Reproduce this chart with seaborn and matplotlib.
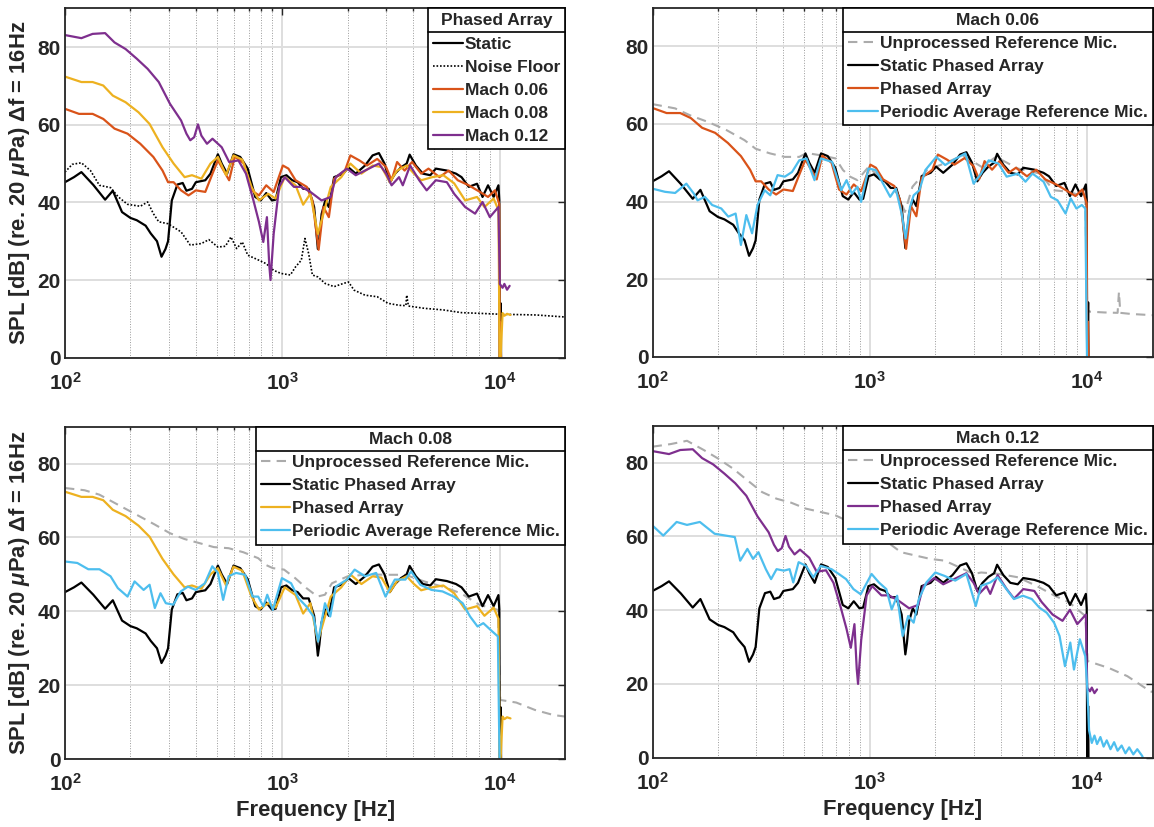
import matplotlib
matplotlib.use('Agg')
import matplotlib.pyplot as plt
import seaborn as sns
from matplotlib.lines import Line2D
from matplotlib.ticker import FixedLocator, FixedFormatter, NullFormatter

# ---- data (frequency in Hz, level in dB) ----
static_f = [
    100, 110, 119, 135, 153, 166, 183, 200, 214, 235,
    248, 265, 278, 290, 298, 310, 329, 348, 362, 384,
    400, 442, 467, 505, 526, 557, 596, 640, 693, 750,
    795, 843, 895, 931, 985, 1044, 1110, 1176, 1246, 1321,
    1400, 1456, 1480, 1515, 1575, 1636, 1730, 1903, 2015, 2175,
    2400, 2600, 2780, 2950, 3120, 3300, 3510, 3730, 3850, 4110,
    4430, 4790, 5080, 5710, 6290, 6670, 7200, 7860, 8330, 8830,
    9370, 9860, 9950, 10000, 10100, 10150, 10200]
static_db = [
    45.2, 46.5, 47.8, 44.5, 40.7, 43.0, 37.5, 36.0, 35.4, 34.0,
    32.0, 30.0, 26.0, 28.0, 30.0, 40.5, 44.6, 45.0, 43.0, 43.5,
    45.2, 45.7, 47.4, 52.4, 50.0, 47.4, 52.4, 51.7, 48.7, 41.4,
    40.5, 42.4, 40.5, 40.7, 46.5, 47.0, 45.7, 45.2, 43.5, 43.5,
    38.8, 28.0, 31.0, 37.0, 40.5, 38.8, 46.5, 47.4, 49.0, 47.4,
    49.5, 52.1, 52.7, 50.0, 45.2, 47.4, 49.0, 50.0, 52.3, 49.5,
    47.4, 47.0, 48.7, 48.2, 47.4, 46.5, 44.0, 44.8, 41.4, 44.4,
    41.4, 44.4, 40.5, -5, 14.0, -5, -5]

noise_f = [
    100, 108, 119, 131, 144, 162, 176, 194, 222, 240,
    255, 270, 298, 342, 377, 424, 459, 505, 547, 580,
    616, 654, 693, 780, 843, 912, 985, 1088, 1150, 1222,
    1270, 1321, 1374, 1456, 1575, 1730, 1903, 2015, 2136, 2400,
    2730, 3060, 3440, 3700, 3730, 3800, 4520, 5500, 6670, 8230,
    9940, 12100, 14700, 19700, 20000]
noise_db = [
    47.8, 49.8, 50.2, 48.2, 44.4, 43.8, 41.4, 39.5, 39.0, 40.1,
    37.1, 35.0, 34.5, 32.4, 29.0, 29.4, 30.4, 28.5, 28.7, 31.1,
    28.1, 29.8, 26.4, 25.1, 24.2, 22.5, 21.7, 21.3, 23.4, 25.1,
    30.7, 26.8, 21.3, 20.8, 19.1, 18.3, 19.1, 19.5, 17.4, 16.1,
    15.7, 14.0, 13.5, 13.4, 16.1, 13.3, 12.7, 12.3, 11.6, 11.4,
    11.2, 11.1, 11.0, 10.5, 10.5]

m06_f = [
    100, 116, 134, 150, 169, 194, 222, 255, 281, 298,
    316, 342, 370, 400, 442, 477, 505, 547, 569, 604,
    666, 721, 780, 843, 912, 1005, 1066, 1150, 1295, 1374,
    1468, 1545, 1636, 1730, 1940, 2055, 2262, 2450, 2730, 3000,
    3180, 3370, 3650, 3950, 4350, 4700, 5280, 5820, 6410, 7200,
    8100, 8830, 9500, 9940, 10000, 10080, 10150]
m06_db = [
    64.1, 62.8, 62.8, 61.5, 59.0, 57.7, 55.1, 51.7, 48.2, 45.2,
    45.2, 43.1, 41.8, 43.1, 42.7, 47.4, 50.8, 47.4, 45.7, 51.8,
    50.0, 43.1, 41.8, 44.4, 42.7, 49.5, 48.7, 45.7, 44.0, 40.5,
    27.8, 38.8, 36.2, 46.1, 48.2, 52.1, 50.8, 49.5, 51.2, 49.1,
    45.7, 50.4, 48.2, 50.4, 47.4, 48.7, 46.5, 48.2, 45.7, 44.4,
    42.7, 41.4, 43.1, 39.6, -5, 9.0, -5]

m08_f = [
    100, 119, 134, 150, 166, 190, 218, 245, 281, 316,
    355, 384, 424, 467, 505, 551, 596, 654, 721, 780,
    860, 931, 1025, 1150, 1246, 1345, 1456, 1545, 1670, 1866,
    2055, 2310, 2600, 2860, 3120, 3370, 3730, 4030, 4350, 4890,
    5500, 6170, 6930, 7860, 8500, 9370, 9860, 10000, 10300, 10500,
    10800, 11200]
m08_db = [
    72.4, 71.0, 71.0, 70.1, 67.5, 65.8, 63.2, 60.2, 54.2, 50.0,
    46.5, 47.0, 46.1, 50.0, 51.7, 47.0, 52.1, 51.0, 44.0, 40.5,
    42.2, 41.0, 46.5, 44.4, 39.4, 42.2, 31.9, 37.1, 44.0, 46.5,
    50.0, 47.4, 49.5, 49.1, 45.2, 48.2, 49.5, 47.4, 45.7, 46.5,
    47.0, 44.9, 40.5, 41.4, 38.8, 41.0, 38.0, -5, 11.5, 10.8,
    11.3, 11.0]

m12_f = [
    100, 119, 134, 153, 169, 190, 214, 240, 270, 304,
    342, 362, 377, 393, 409, 424, 450, 477, 526, 569,
    628, 680, 736, 780, 817, 849, 870, 882, 912, 966,
    1025, 1130, 1222, 1345, 1515, 1670, 1760, 1980, 2175, 2500,
    2780, 3000, 3180, 3440, 3580, 3870, 4260, 4610, 5080, 5710,
    6170, 6930, 7700, 8330, 9000, 9860, 10000, 10300, 10500, 10800,
    11100]
m12_db = [
    83.1, 82.3, 83.4, 83.6, 81.2, 79.5, 77.0, 74.4, 71.0, 65.4,
    61.1, 57.7, 56.0, 56.8, 60.1, 57.2, 55.1, 56.4, 54.2, 50.4,
    50.8, 47.4, 40.5, 35.0, 29.8, 36.2, 24.0, 20.0, 31.9, 44.0,
    46.5, 44.0, 44.0, 42.7, 40.5, 41.4, 46.5, 48.7, 47.0, 48.7,
    50.0, 47.4, 44.4, 46.5, 44.4, 49.5, 45.7, 43.1, 45.7, 45.2,
    42.2, 38.8, 37.1, 40.1, 36.2, 38.8, 19.0, 18.0, 19.0, 17.5,
    18.5]

ref06_f = [
    100, 127, 149, 180, 219, 265, 298, 347, 405, 473,
    511, 595, 696, 752, 811, 876, 985, 1340, 1450, 1570,
    1830, 2200, 2680, 3270, 3800, 4800, 6070, 7000, 8230, 9800,
    10000, 10300, 12000, 13800, 14000, 14200, 16000, 20000]
ref06_db = [
    65.1, 64.0, 62.2, 60.5, 58.4, 55.8, 53.6, 52.4, 51.5, 51.5,
    52.5, 51.9, 51.1, 48.1, 46.4, 45.5, 48.9, 42.0, 37.3, 43.8,
    48.1, 49.8, 51.9, 48.9, 51.5, 48.5, 47.2, 42.9, 42.5, 41.2,
    12.0, 11.6, 11.4, 11.3, 16.7, 11.3, 11.0, 10.7]

avg06_f = [
    100, 114, 127, 143, 155, 161, 174, 188, 207, 223,
    241, 255, 270, 287, 304, 328, 348, 376, 406, 438,
    473, 511, 556, 595, 670, 738, 781, 826, 876, 911,
    985, 1064, 1150, 1240, 1315, 1400, 1460, 1530, 1590, 1690,
    1800, 2020, 2220, 2490, 2750, 3000, 3250, 3520, 3900, 4260,
    4800, 5200, 5600, 6300, 6800, 7300, 7950, 8400, 8920, 9450,
    9800, 10000]
avg06_db = [
    43.3, 42.5, 42.2, 44.6, 42.0, 40.3, 41.2, 39.1, 38.2, 36.1,
    36.9, 28.8, 36.5, 31.8, 39.1, 42.9, 41.6, 46.8, 46.4, 47.6,
    50.6, 51.1, 45.5, 51.1, 50.2, 42.9, 45.5, 42.0, 43.8, 39.9,
    48.5, 48.1, 44.6, 41.2, 43.3, 36.9, 30.5, 38.6, 41.6, 42.9,
    48.1, 51.5, 49.4, 51.1, 52.4, 44.6, 47.2, 50.6, 49.8, 46.4,
    47.2, 45.1, 47.2, 45.1, 41.2, 40.3, 36.9, 40.8, 38.2, 39.1,
    38.2, -5]

ref08_f = [
    100, 123, 144, 175, 213, 259, 303, 354, 414, 484,
    566, 662, 774, 837, 904, 1018, 1145, 1290, 1450, 1570,
    1690, 2000, 2500, 3030, 3680, 4490, 5450, 6620, 8040, 9800,
    10050, 11900, 14500, 17700, 20000]
ref08_db = [
    73.4, 72.8, 71.6, 68.9, 66.2, 63.5, 61.2, 59.6, 58.5, 57.4,
    57.1, 56.0, 54.4, 52.6, 51.7, 51.3, 49.0, 46.3, 44.0, 44.5,
    47.6, 49.5, 50.0, 49.9, 49.9, 48.1, 46.7, 44.9, 41.8, 40.4,
    16.0, 15.3, 13.3, 11.9, 11.5]

avg08_f = [
    100, 114, 128, 144, 162, 175, 194, 209, 230, 245,
    259, 275, 291, 315, 341, 368, 399, 440, 476, 505,
    534, 566, 612, 674, 729, 774, 818, 852, 904, 995,
    1097, 1185, 1290, 1390, 1460, 1570, 1660, 1760, 1980, 2150,
    2400, 2700, 2980, 3290, 3680, 3910, 4310, 4850, 5450, 6140,
    6750, 7300, 7900, 8400, 9060, 9800, 10000]
avg08_db = [
    53.5, 53.1, 51.4, 51.4, 49.5, 46.3, 44.0, 48.1, 45.8, 47.2,
    40.9, 44.9, 42.2, 41.8, 45.4, 46.7, 45.8, 47.6, 52.2, 50.4,
    43.1, 49.5, 50.4, 49.9, 44.0, 44.0, 41.3, 44.5, 40.4, 49.0,
    47.6, 43.6, 41.3, 38.6, 31.8, 42.2, 38.6, 46.7, 48.6, 51.3,
    49.5, 50.4, 44.0, 48.6, 48.6, 50.8, 47.2, 45.8, 45.4, 44.0,
    42.2, 38.6, 35.9, 36.8, 35.0, 33.2, -5]

ref12_f = [
    100, 121, 144, 172, 200, 234, 273, 319, 372, 435,
    508, 594, 693, 800, 1000, 1200, 1390, 1620, 1890, 2210,
    2580, 3010, 3250, 3940, 4800, 5830, 7090, 8260, 9800, 10050,
    12600, 15300, 19500, 20000]
ref12_db = [
    84.3, 85.0, 85.9, 83.4, 81.1, 78.4, 75.2, 72.0, 70.2, 69.1,
    67.5, 66.6, 65.7, 64.0, 61.5, 58.5, 55.7, 54.8, 53.9, 53.4,
    51.6, 49.8, 50.2, 49.8, 48.9, 46.6, 43.9, 42.1, 38.4, 26.2,
    24.3, 22.1, 18.0, 17.8]

avg12_f = [
    100, 112, 129, 144, 165, 193, 217, 239, 253, 273,
    290, 307, 332, 351, 372, 402, 427, 444, 470, 508,
    549, 594, 666, 719, 777, 840, 907, 1018, 1100, 1190,
    1260, 1335, 1415, 1500, 1590, 1680, 1820, 2000, 2200, 2470,
    2780, 3070, 3250, 3580, 3870, 4250, 4600, 5060, 5560, 6020,
    6510, 7040, 7460, 7900, 8360, 8690, 9250, 9800, 10000, 10200,
    10500, 10800, 11100, 11500, 11900, 12300, 12800, 13300, 13800, 14400,
    15000, 15600, 16300, 17000, 17900, 18300]
avg12_db = [
    62.9, 60.2, 63.9, 63.1, 63.9, 60.7, 60.2, 59.8, 53.4, 56.6,
    53.9, 55.7, 51.1, 48.4, 51.1, 50.7, 51.1, 47.5, 53.0, 52.0,
    48.9, 52.0, 51.1, 49.8, 48.4, 45.7, 44.3, 49.8, 47.5, 45.7,
    40.2, 43.9, 33.0, 38.4, 36.6, 43.0, 47.5, 50.2, 49.3, 48.0,
    49.8, 41.1, 46.6, 47.5, 48.9, 45.7, 43.0, 43.9, 43.0, 40.7,
    39.3, 36.6, 33.0, 24.8, 31.2, 23.9, 32.1, 27.5, 19.3, 7.4,
    4.0, 6.0, 3.7, 5.6, 3.0, 4.7, 2.3, 4.2, 1.9, 3.3,
    1.2, 2.8, 0.9, 2.3, 0.5, -1]

# MATLAB default colours
BLACK = '#000000'
ORANGE = '#D95319'
YELLOW = '#EDB120'
PURPLE = '#7E2F8E'
BLUE = '#4DBEEE'
GREY = '#ababab'
AXCOL = '#262626'

sns.set_theme(style='white')
plt.rcParams['font.family'] = ['Liberation Sans', 'DejaVu Sans']
plt.rcParams['font.weight'] = 'bold'
plt.rcParams['axes.labelweight'] = 'bold'
plt.rcParams['mathtext.fontset'] = 'custom'
plt.rcParams['mathtext.rm'] = 'Liberation Sans:bold'
plt.rcParams['mathtext.bf'] = 'Liberation Sans:bold'
plt.rcParams['mathtext.it'] = 'Liberation Sans:italic:bold'

fig = plt.figure(figsize=(11.54, 8.27), dpi=100)
ax_tl = fig.add_axes([0.0563, 0.5675, 0.4335, 0.4225])
ax_tr = fig.add_axes([0.5655, 0.5687, 0.4333, 0.4222])
ax_bl = fig.add_axes([0.0563, 0.0822, 0.4335, 0.4018])
ax_br = fig.add_axes([0.5655, 0.0838, 0.4333, 0.4015])

LW = 1.6
DASH = (4.5, 3.0)
DOT = (1.0, 1.1)
FS_TICK = 15
FS_LAB = 15.8
FS_LEG = 12.5
LSPACE = 0.46


def draw(ax, f, db, color, lw=LW, dashes=None):
    sns.lineplot(x=f, y=db, ax=ax, color=color, lw=lw,
                 estimator=None, sort=False)
    if dashes is not None:
        ax.lines[-1].set_dashes(dashes)


def style_axes(ax):
    ax.set_xscale('log')
    ax.set_xlim(100, 20000)
    ax.set_ylim(0, 90)
    ax.xaxis.set_major_locator(FixedLocator([100, 1000, 10000]))
    ax.xaxis.set_major_formatter(FixedFormatter(
        [r'$\mathbf{10^{2}}$', r'$\mathbf{10^{3}}$', r'$\mathbf{10^{4}}$']))
    minors = [m * d for d in (100, 1000) for m in range(2, 10)]
    ax.xaxis.set_minor_locator(FixedLocator(minors))
    ax.xaxis.set_minor_formatter(NullFormatter())
    ax.set_yticks([0, 20, 40, 60, 80])
    ax.set_axisbelow(True)
    ax.grid(which='major', color='#dedede', lw=1.4, ls='-')
    ax.grid(which='minor', axis='x', color='#9a9a9a', lw=0.7, ls=':')
    ax.tick_params(which='both', direction='in', top=True, right=True,
                   colors=AXCOL, labelsize=FS_TICK, width=1.0)
    ax.tick_params(which='major', length=5)
    ax.tick_params(which='minor', length=2.5)
    ax.tick_params(axis='y', pad=3)
    ax.tick_params(axis='x', pad=10)
    for s in ax.spines.values():
        s.set_color(AXCOL)
        s.set_linewidth(1.3)
    ax.set_xlabel('')
    ax.set_ylabel('')


def handle(color, lw=LW, dashes=None):
    h = Line2D([0], [0], color=color, lw=lw)
    if dashes is not None:
        h.set_dashes(dashes)
    return h


def add_legend(ax, title, handles, labels):
    leg = ax.legend(handles, labels, title=title, loc='upper right',
                    borderaxespad=0, frameon=True, fancybox=False,
                    framealpha=1, edgecolor='black',
                    prop={'weight': 'bold', 'size': FS_LEG},
                    title_fontproperties={'weight': 'bold', 'size': FS_LEG},
                    handlelength=1.7, handletextpad=0.1, labelspacing=LSPACE,
                    borderpad=0.3)
    leg.get_frame().set_linewidth(1.2)
    leg.set_zorder(10)
    return leg


# ---- top left: all phased array results ----
draw(ax_tl, noise_f, noise_db, BLACK, lw=1.2, dashes=DOT)
draw(ax_tl, static_f, static_db, BLACK)
draw(ax_tl, m06_f, m06_db, ORANGE)
draw(ax_tl, m08_f, m08_db, YELLOW)
draw(ax_tl, m12_f, m12_db, PURPLE)
style_axes(ax_tl)
leg_tl = add_legend(ax_tl, 'Phased Array',
                    [handle(BLACK), handle(BLACK, 1.2, DOT), handle(ORANGE),
                     handle(YELLOW), handle(PURPLE)],
                    ['Static', 'Noise Floor', 'Mach 0.06', 'Mach 0.08', 'Mach 0.12'])

# ---- per Mach number panels ----
panels = [
    (ax_tr, 'Mach 0.06', ref06_f, ref06_db, m06_f, m06_db, ORANGE, avg06_f, avg06_db),
    (ax_bl, 'Mach 0.08', ref08_f, ref08_db, m08_f, m08_db, YELLOW, avg08_f, avg08_db),
    (ax_br, 'Mach 0.12', ref12_f, ref12_db, m12_f, m12_db, PURPLE, avg12_f, avg12_db),
]
legends = [leg_tl]
for ax, title, rf, rdb, pf, pdb, pcol, af, adb in panels:
    draw(ax, rf, rdb, GREY, lw=1.5, dashes=DASH)
    draw(ax, static_f, static_db, BLACK)
    draw(ax, pf, pdb, pcol)
    draw(ax, af, adb, BLUE)
    style_axes(ax)
    legends.append(add_legend(
        ax, title,
        [handle(GREY, 1.5, DASH), handle(BLACK), handle(pcol), handle(BLUE)],
        ['Unprocessed Reference Mic.', 'Static Phased Array', 'Phased Array',
         'Periodic Average Reference Mic.']))

ylab = r'SPL [dB] (re. 20 $\mu$Pa) $\Delta$f = 16Hz'
for ax in (ax_tl, ax_bl):
    ax.set_ylabel(ylab, fontsize=FS_LAB, fontweight='bold', color=AXCOL, labelpad=4)
for ax in (ax_bl, ax_br):
    ax.set_xlabel('Frequency [Hz]', fontsize=FS_LAB, fontweight='bold', color=AXCOL, labelpad=4)

# separator line between legend title and entries (MATLAB style)
fig.canvas.draw()
W, H = fig.bbox.width, fig.bbox.height
gap = LSPACE * FS_LEG * fig.dpi / 72
for leg in legends:
    fb = leg.get_frame().get_window_extent()
    tb = leg.get_title().get_window_extent()
    y = tb.y0 - gap / 2
    fig.add_artist(Line2D([fb.x0 / W, fb.x1 / W], [y / H, y / H],
                          transform=fig.transFigure, color='black', lw=1.2,
                          zorder=20))

fig.savefig('out.png', dpi=100)
